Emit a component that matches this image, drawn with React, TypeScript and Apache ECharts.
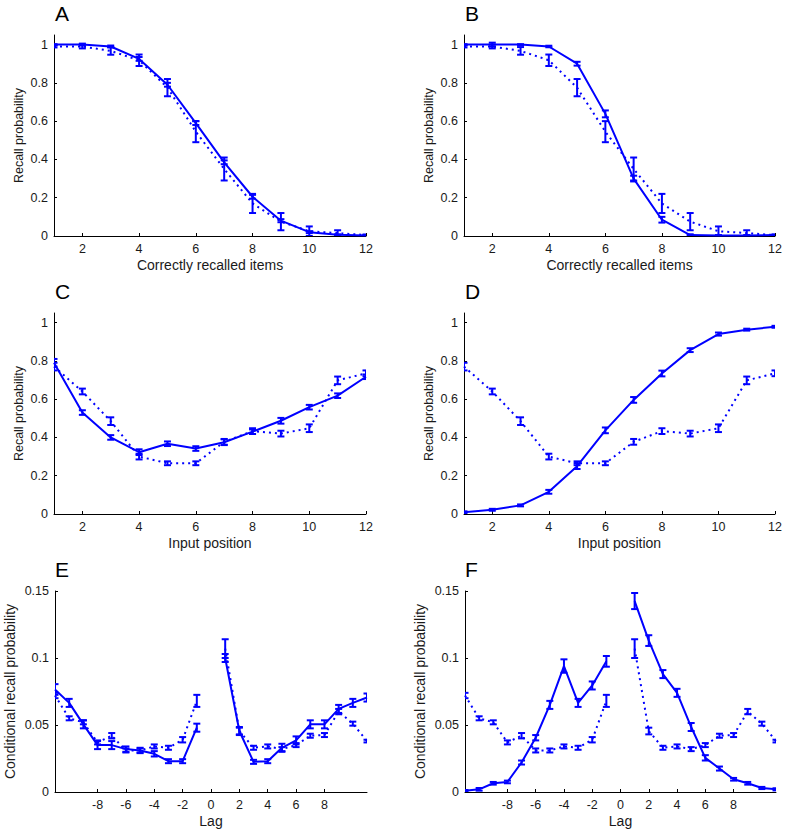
import React, { useEffect, useRef } from "react";
import * as echarts from "echarts";

// ---- Data ----
const itemCounts = [1, 2, 3, 4, 5, 6, 7, 8, 9, 10, 11, 12];
const countDataMean = [0.99, 0.99, 0.967, 0.918, 0.775, 0.545, 0.35, 0.17, 0.075, 0.025, 0.015, 0.005];
const countDataErr = [0.005, 0.01, 0.02, 0.03, 0.045, 0.055, 0.06, 0.05, 0.045, 0.025, 0.015, 0.003];
const countModelAMean = [1.0, 1.0, 0.99, 0.925, 0.79, 0.59, 0.385, 0.205, 0.08, 0.02, 0.006, 0.003];
const countModelAErr = [0.002, 0.005, 0.005, 0.01, 0.01, 0.01, 0.01, 0.01, 0.008, 0.005, 0.003, 0.002];
const countModelBMean = [1.0, 1.0, 1.0, 0.99, 0.9, 0.638, 0.3, 0.085, 0.005, 0.003, 0.003, 0.005];
const countModelBErr = [0.002, 0.01, 0.002, 0.004, 0.01, 0.018, 0.015, 0.015, 0.004, 0.002, 0.002, 0.002];

const inputPositions = [1, 2, 3, 4, 5, 6, 7, 8, 9, 10, 11, 12];
const posDataMean = [0.77, 0.64, 0.485, 0.3, 0.265, 0.265, 0.377, 0.433, 0.42, 0.448, 0.698, 0.735];
const posDataErr = [0.02, 0.015, 0.02, 0.015, 0.01, 0.01, 0.015, 0.015, 0.015, 0.02, 0.02, 0.015];
const posModelCMean = [0.79, 0.53, 0.4, 0.323, 0.367, 0.342, 0.375, 0.43, 0.487, 0.558, 0.618, 0.717];
const posModelCErr = [0.02, 0.012, 0.012, 0.015, 0.012, 0.012, 0.015, 0.012, 0.015, 0.012, 0.012, 0.012];
const posModelDMean = [0.009, 0.022, 0.045, 0.116, 0.25, 0.437, 0.596, 0.734, 0.856, 0.94, 0.963, 0.978];
const posModelDErr = [0.005, 0.005, 0.005, 0.01, 0.015, 0.015, 0.015, 0.015, 0.01, 0.008, 0.005, 0.005];

const lags = [-11, -10, -9, -8, -7, -6, -5, -4, -3, -2, -1, 1, 2, 3, 4, 5, 6, 7, 8, 9, 10, 11];
const lagDataMean = [0.072, 0.055, 0.052, 0.037, 0.042, 0.031, 0.031, 0.034, 0.033, 0.039, 0.068, 0.107, 0.0455, 0.033, 0.034, 0.032, 0.035, 0.042, 0.0425, 0.06, 0.051, 0.038];
const lagDataErr = [0.002, 0.0015, 0.0015, 0.0015, 0.002, 0.0015, 0.0015, 0.0015, 0.0015, 0.002, 0.0045, 0.007, 0.0025, 0.0015, 0.0015, 0.0015, 0.0015, 0.0015, 0.0015, 0.002, 0.0015, 0.001];
const lagModelEMean = [0.0765, 0.0665, 0.0505, 0.035, 0.035, 0.032, 0.031, 0.0285, 0.023, 0.023, 0.048, 0.1, 0.0455, 0.0225, 0.023, 0.033, 0.0385, 0.0505, 0.0505, 0.062, 0.0665, 0.0705];
const lagModelEErr = [0.004, 0.003, 0.003, 0.003, 0.003, 0.002, 0.002, 0.002, 0.0015, 0.0015, 0.003, 0.003, 0.003, 0.0015, 0.0015, 0.003, 0.003, 0.003, 0.003, 0.003, 0.003, 0.003];
const lagModelFMean = [0.001, 0.002, 0.0065, 0.0075, 0.022, 0.0405, 0.065, 0.094, 0.0665, 0.0795, 0.0975, 0.1425, 0.113, 0.088, 0.074, 0.0485, 0.0255, 0.0175, 0.0095, 0.0065, 0.003, 0.002];
const lagModelFErr = [0.0005, 0.001, 0.001, 0.001, 0.0015, 0.002, 0.003, 0.005, 0.003, 0.003, 0.004, 0.006, 0.004, 0.003, 0.003, 0.003, 0.002, 0.0015, 0.001, 0.001, 0.0008, 0.0008];

const countTicks = [2, 4, 6, 8, 10, 12];
const probTicks = [0, 0.2, 0.4, 0.6, 0.8, 1];
const lagTicks = [-8, -6, -4, -2, 0, 2, 4, 6, 8];
const condTicks = [0, 0.05, 0.1, 0.15];

const panelLetters = ["A", "B", "C", "D", "E", "F"];

// ---- Styles ----
const BLUE = "#0000ff";
const FONT = "'Liberation Sans', Arial, sans-serif";
const TXT = "#1a1a1a";

const pairs = (xs: number[], ys: number[]) => xs.map((x, i) => [x, ys[i]]);
const triples = (xs: number[], ys: number[], es: number[]) => xs.map((x, i) => [x, ys[i], es[i]]);

export default function App() {
  const ref = useRef<HTMLDivElement>(null);
  useEffect(() => {
    document.body.style.margin = "0";
    if (!ref.current) return;
    const chart = echarts.init(ref.current, null, { renderer: "svg" });

    const gridsPx = [
      { left: 54, top: 35, width: 312, height: 201 },
      { left: 464, top: 35, width: 311, height: 201 },
      { left: 54, top: 313, width: 312, height: 201 },
      { left: 464, top: 313, width: 311, height: 201 },
      { left: 55, top: 591, width: 312, height: 201 },
      { left: 465, top: 591, width: 311, height: 201 },
    ];

    const errRender = (params: any, api: any) => {
      const x = api.value(0);
      const y = api.value(1);
      const e = api.value(2);
      const t = api.coord([x, y + e]);
      const b = api.coord([x, y - e]);
      const hw = 3.5;
      const st = { stroke: BLUE, lineWidth: 2 };
      return {
        type: "group",
        children: [
          { type: "line", shape: { x1: t[0], y1: t[1], x2: b[0], y2: b[1] }, style: st },
          { type: "line", shape: { x1: t[0] - hw, y1: t[1], x2: t[0] + hw, y2: t[1] }, style: st },
          { type: "line", shape: { x1: b[0] - hw, y1: b[1], x2: b[0] + hw, y2: b[1] }, style: st },
        ],
      };
    };

    const lineSeries = (idx: number, data: number[][], dotted: boolean) => ({
      type: "line",
      xAxisIndex: idx,
      yAxisIndex: idx,
      data,
      showSymbol: false,
      symbol: "none",
      lineStyle: { color: BLUE, width: 2, type: dotted ? [2, 4] : "solid" },
      z: 2,
    });
    const errSeries = (idx: number, data: number[][]) => ({
      type: "custom",
      xAxisIndex: idx,
      yAxisIndex: idx,
      data,
      clip: true,
      encode: { x: 0, y: 1 },
      renderItem: errRender,
      z: 3,
    });

    const series: any[] = [];
    const addPanel = (idx: number, xs: number[], modelM: number[], modelE: number[], dataM: number[], dataE: number[], split: boolean) => {
      if (split) {
        const neg = xs.map((x, i) => i).filter((i) => xs[i] < 0);
        const pos = xs.map((x, i) => i).filter((i) => xs[i] > 0);
        for (const part of [neg, pos]) {
          series.push(lineSeries(idx, part.map((i) => [xs[i], dataM[i]]), true));
          series.push(lineSeries(idx, part.map((i) => [xs[i], modelM[i]]), false));
        }
      } else {
        series.push(lineSeries(idx, pairs(xs, dataM), true));
        series.push(lineSeries(idx, pairs(xs, modelM), false));
      }
      series.push(errSeries(idx, triples(xs, dataM, dataE)));
      series.push(errSeries(idx, triples(xs, modelM, modelE)));
    };
    addPanel(0, itemCounts, countModelAMean, countModelAErr, countDataMean, countDataErr, false);
    addPanel(1, itemCounts, countModelBMean, countModelBErr, countDataMean, countDataErr, false);
    addPanel(2, inputPositions, posModelCMean, posModelCErr, posDataMean, posDataErr, false);
    addPanel(3, inputPositions, posModelDMean, posModelDErr, posDataMean, posDataErr, false);
    addPanel(4, lags, lagModelEMean, lagModelEErr, lagDataMean, lagDataErr, true);
    addPanel(5, lags, lagModelFMean, lagModelFErr, lagDataMean, lagDataErr, true);

    const xNames = ["Correctly recalled items", "Correctly recalled items", "Input position", "Input position", "Lag", "Lag"];
    const yNames = ["Recall probability", "Recall probability", "Recall probability", "Recall probability", "Conditional recall probability", "Conditional recall probability"];

    const axisLineStyle = { show: true, onZero: false, lineStyle: { color: "#000", width: 1 } };
    const xAxes = gridsPx.map((g, i) => {
      const isLag = i >= 4;
      const ticks = isLag ? lagTicks : countTicks;
      return {
        type: "value",
        gridIndex: i,
        min: isLag ? -11 : 1,
        max: isLag ? 11 : 12,
        name: xNames[i],
        nameLocation: "middle",
        nameGap: 22,
        nameTextStyle: { fontFamily: FONT, fontSize: 14, color: TXT },
        axisLine: axisLineStyle,
        axisTick: { show: true, inside: true, length: 3, customValues: ticks, lineStyle: { color: "#000" } },
        axisLabel: { customValues: ticks, fontFamily: FONT, fontSize: 12.5, color: TXT, margin: 6 },
        splitLine: { show: false },
      };
    });
    const yAxes = gridsPx.map((g, i) => {
      const isLag = i >= 4;
      const ticks = isLag ? condTicks : probTicks;
      return {
        type: "value",
        gridIndex: i,
        min: 0,
        max: isLag ? 0.15 : 1.05,
        name: yNames[i],
        nameLocation: "middle",
        nameGap: isLag ? 38 : 29,
        nameTextStyle: { fontFamily: FONT, fontSize: isLag ? 14 : 12.5, color: TXT },
        axisLine: axisLineStyle,
        axisTick: { show: true, inside: true, length: 3, customValues: ticks, lineStyle: { color: "#000" } },
        axisLabel: { customValues: ticks, fontFamily: FONT, fontSize: 12.5, color: TXT, margin: 6 },
        splitLine: { show: false },
      };
    });

    const letterPos = [
      [55, 3], [465, 3], [55, 281], [465, 281], [55, 559], [465, 559],
    ];
    const graphic = panelLetters.map((t, i) => ({
      type: "text",
      left: letterPos[i][0],
      top: letterPos[i][1],
      style: { text: t, fontFamily: FONT, fontSize: 21, fill: "#000" },
    }));

    chart.setOption({
      animation: false,
      backgroundColor: "#fff",
      grid: gridsPx.map((g) => ({ ...g, containLabel: false })),
      xAxis: xAxes,
      yAxis: yAxes,
      series,
      graphic,
    });
    return () => chart.dispose();
  }, []);
  return <div ref={ref} style={{ width: 786, height: 834 }} />;
}
